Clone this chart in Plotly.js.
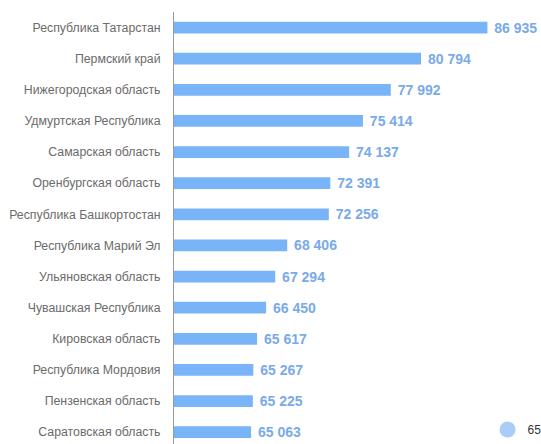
<!DOCTYPE html>
<html><head><meta charset="utf-8">
<script src="https://cdn.plot.ly/plotly-3.0.1.min.js"></script>
<style>html,body{margin:0;padding:0;background:#fff}#chart{width:541px;height:444px}</style>
</head><body><div id="chart"></div>
<script>
const regions = ["Республика Татарстан","Пермский край","Нижегородская область","Удмуртская Республика","Самарская область","Оренбургская область","Республика Башкортостан","Республика Марий Эл","Ульяновская область","Чувашская Республика","Кировская область","Республика Мордовия","Пензенская область","Саратовская область"];
const values = [86935,80794,77992,75414,74137,72391,72256,68406,67294,66450,65617,65267,65225,65063];
const legendName = "65";

const labels = values.map(v => { const s = String(v); return "\u00a0" + s.slice(0, s.length-3) + " " + s.slice(-3); });

const traces = [
  {type:'bar', orientation:'h', y:regions, x:values, text:labels, textposition:'outside', constraintext:'none',
   textfont:{family:'Liberation Sans, Arial, sans-serif', size:14, color:'#7aaae8', weight:'bold'},
   marker:{color:'#7ab4f8'}, cliponaxis:false, showlegend:false, hoverinfo:'none'},
  {type:'scatter', mode:'markers', x:[null], y:[null], name:legendName,
   marker:{color:'#a9cdf6', size:16, symbol:'circle'}, showlegend:true}
];

const layout = {
  width:541, height:444,
  margin:{l:174, r:1, t:12, b:0, autoexpand:false},
  paper_bgcolor:'#fff', plot_bgcolor:'#fff',
  bargap:0.62,
  font:{family:'Liberation Sans, Arial, sans-serif', size:12.3, color:'#6b6b6b'},
  xaxis:{range:[57927, 91800], showgrid:false, zeroline:false, showticklabels:false, showline:false, fixedrange:true},
  yaxis:{type:'category', categoryorder:'array', categoryarray:regions, range:[13.38, -0.5],
         showline:true, linecolor:'#9a9a9a', linewidth:1, ticks:'', ticklabelstandoff:10,
         showgrid:false, zeroline:false, tickfont:{size:12.3, color:'#6b6b6b'}},
  showlegend:true,
  legend:{x:1.018, xanchor:'right', y:0.0, yanchor:'bottom', bgcolor:'rgba(0,0,0,0)',
          font:{size:12, color:'#333'}, itemwidth:30, tracegroupgap:0}
};
Plotly.newPlot('chart', traces, layout, {displayModeBar:false, staticPlot:true});
</script></body></html>
